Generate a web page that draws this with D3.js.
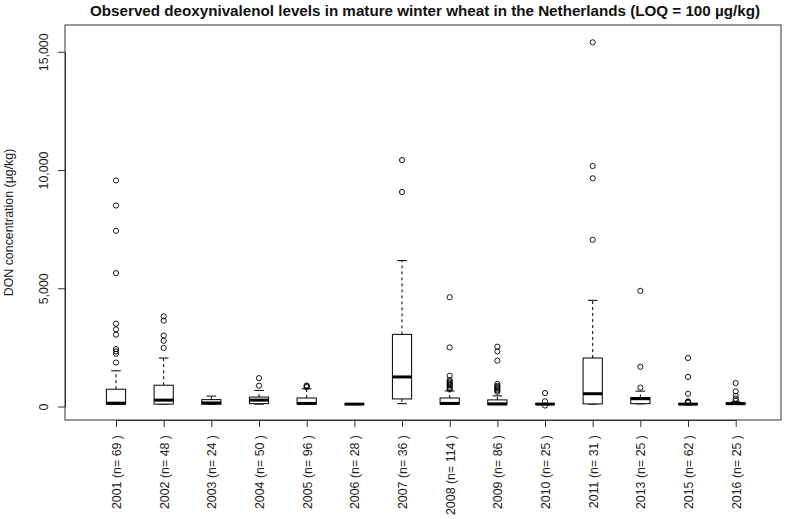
<!DOCTYPE html>
<html>
<head>
<meta charset="utf-8">
<script src="https://cdn.jsdelivr.net/npm/d3@7"></script>
<style>
  html, body { margin: 0; padding: 0; background: #fff; }
  svg { display: block; font-family: "Liberation Sans", Arial, sans-serif; }
</style>
</head>
<body>
<svg id="chart" width="791" height="519"></svg>
<script>
// ---- data ----
const years  = ["2001","2002","2003","2004","2005","2006","2007","2008","2009","2010","2011","2013","2015","2016"];
const counts = [69, 48, 24, 50, 96, 28, 36, 114, 86, 25, 31, 25, 62, 25];
const lowerWhisker = [100, 100, 100, 100, 100, 90, 120, 100, 80, 100, 100, 110, 100, 100];
const q1           = [100, 100, 100, 120, 100, 90, 320, 100, 80, 100, 110, 120, 100, 100];
const medians      = [140, 270, 150, 270, 130, 100, 1250, 130, 110, 100, 540, 330, 100, 120];
const q3           = [730, 900, 290, 400, 360, 110, 3050, 360, 280, 110, 2050, 380, 110, 150];
const upperWhisker = [1510, 2050, 440, 680, 750, 110, 6170, 660, 450, 110, 4490, 650, 110, 200];
const outliers = [
  [1860, 2230, 2330, 2430, 3040, 3260, 3500, 5640, 7430, 8500, 9560],
  [2480, 2780, 3000, 3630, 3810],
  [],
  [880, 1200],
  [820, 860, 890],
  [],
  [9070, 10420],
  [720, 780, 840, 900, 950, 1000, 1060, 1120, 1300, 2500, 4620],
  [620, 680, 720, 780, 830, 880, 960, 1940, 2330, 2530],
  [40, 220, 570],
  [7050, 9650, 10170, 15400],
  [800, 1680, 4890],
  [160, 190, 220, 540, 1250, 2050],
  [260, 330, 450, 640, 990]
];
const yTicks = [0, 5000, 10000, 15000];
const titleText = "Observed deoxynivalenol levels in mature winter wheat in the Netherlands (LOQ = 100 \u00b5g/kg)";
const yTitle = "DON concentration (\u00b5g/kg)";

// ---- layout ----
const svg = d3.select("#chart");
const frame = {left: 65, top: 25, right: 781, bottom: 420};
const x = d3.scaleLinear().domain([1, years.length]).range([116, 735.7]);
const y = d3.scaleLinear().domain([0, 15000]).range([406.5, 51.8]);
const halfBox = 9.6, halfCap = 4.8;
const ink = "#000";
const fs = 12.4;

// title
svg.append("text")
  .attr("x", (frame.left + frame.right) / 2 + 2)
  .attr("y", 16)
  .attr("text-anchor", "middle")
  .attr("font-weight", "bold")
  .attr("font-size", 15.2)
  .attr("fill", "#111")
  .text(titleText);

// y title
svg.append("text")
  .attr("transform", `translate(13,${(frame.top + frame.bottom) / 2}) rotate(-90)`)
  .attr("text-anchor", "middle")
  .attr("font-size", fs)
  .attr("fill", "#222")
  .text(yTitle);

// y axis
const yAxis = svg.append("g")
  .attr("transform", `translate(${frame.left},0)`)
  .call(d3.axisLeft(y).tickValues(yTicks).tickSize(7).tickSizeOuter(0).tickPadding(0)
    .tickFormat(d3.format(",")));
yAxis.select(".domain").attr("stroke", "#333");
yAxis.selectAll(".tick line").attr("stroke", "#333");
yAxis.selectAll(".tick text")
  .attr("font-size", fs)
  .attr("font-family", "Liberation Sans, Arial, sans-serif")
  .attr("fill", "#222")
  .attr("transform", "rotate(-90)")
  .attr("text-anchor", "middle")
  .attr("x", 0)
  .attr("dy", 0)
  .attr("y", -17);

// x axis
const xAxis = svg.append("g")
  .attr("transform", `translate(0,${frame.bottom})`)
  .call(d3.axisBottom(x).tickValues(d3.range(1, years.length + 1)).tickSize(7).tickSizeOuter(0)
    .tickFormat((d, i) => `${years[i]} (n= ${counts[i]} )`));
xAxis.select(".domain").attr("stroke", "#333");
xAxis.selectAll(".tick line").attr("stroke", "#333");
xAxis.selectAll(".tick text")
  .attr("font-size", fs)
  .attr("font-family", "Liberation Sans, Arial, sans-serif")
  .attr("fill", "#222")
  .attr("transform", "rotate(-90)")
  .attr("text-anchor", "end")
  .attr("x", -15)
  .attr("y", 0)
  .attr("dy", "0.35em");

// frame
svg.append("rect")
  .attr("x", frame.left).attr("y", frame.top)
  .attr("width", frame.right - frame.left).attr("height", frame.bottom - frame.top)
  .attr("fill", "none").attr("stroke", "#333").attr("stroke-width", 1);

// boxes
const g = svg.append("g");
years.forEach((yr, i) => {
  const cx = x(i + 1);
  const b = g.append("g");
  // whiskers (dashed)
  b.append("line").attr("x1", cx).attr("x2", cx)
    .attr("y1", y(q3[i])).attr("y2", y(upperWhisker[i]))
    .attr("stroke", ink).attr("stroke-dasharray", "3,3");
  b.append("line").attr("x1", cx).attr("x2", cx)
    .attr("y1", y(q1[i])).attr("y2", y(lowerWhisker[i]))
    .attr("stroke", ink).attr("stroke-dasharray", "3,3");
  // caps
  [upperWhisker[i], lowerWhisker[i]].forEach(v => {
    b.append("line").attr("x1", cx - halfCap).attr("x2", cx + halfCap)
      .attr("y1", y(v)).attr("y2", y(v)).attr("stroke", ink);
  });
  // box
  b.append("rect")
    .attr("x", cx - halfBox).attr("width", halfBox * 2)
    .attr("y", y(q3[i])).attr("height", Math.max(0, y(q1[i]) - y(q3[i])))
    .attr("fill", "#fff").attr("stroke", ink);
  // median
  b.append("line").attr("x1", cx - halfBox).attr("x2", cx + halfBox)
    .attr("y1", y(medians[i])).attr("y2", y(medians[i]))
    .attr("stroke", ink).attr("stroke-width", 3);
  // outliers
  b.selectAll("circle").data(outliers[i]).join("circle")
    .attr("cx", cx).attr("cy", d => y(d)).attr("r", 2.6)
    .attr("fill", "none").attr("stroke", ink).attr("stroke-width", 0.9);
});
</script>
</body>
</html>
